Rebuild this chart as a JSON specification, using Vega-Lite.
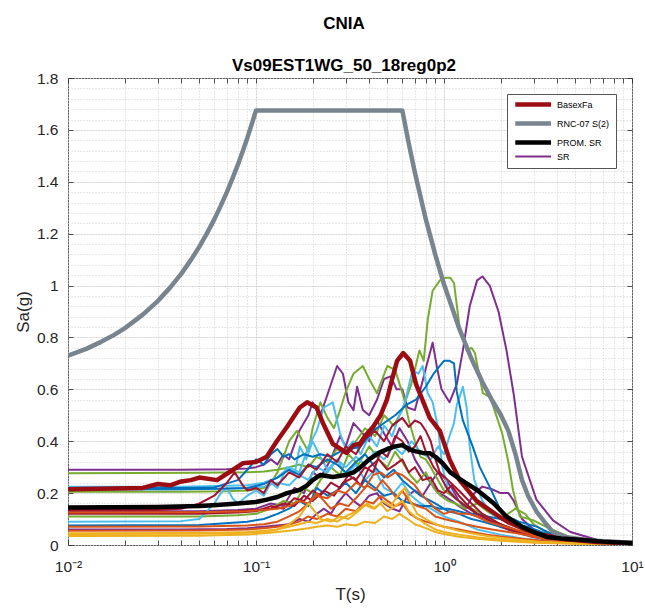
{
"$schema":"https://vega.github.io/schema/vega-lite/v6.json",
"width":564,"height":467,
"autosize":{"type":"none"},
"padding":{"left":68,"top":78,"right":13,"bottom":63},
"background":"white",
"title":{"text":"CNIA","subtitle":"Vs09EST1WG_50_18reg0p2","fontSize":17,"fontWeight":"bold","subtitleFontSize":17,"subtitleFontWeight":"bold","font":"Liberation Sans","subtitleFont":"Liberation Sans","color":"#000000","subtitleColor":"#000000","anchor":"middle","offset":-4,"subtitlePadding":25.5,"dx":-6},
"config":{"view":{"stroke":"#262626","strokeWidth":1},"font":"Liberation Sans"},
"data":{"values":[
{"s":"BasexFa","T":0.01,"a":0.215},{"s":"BasexFa","T":0.025,"a":0.22},{"s":"BasexFa","T":0.03,"a":0.235},{"s":"BasexFa","T":0.035,"a":0.23},{"s":"BasexFa","T":0.04,"a":0.245},{"s":"BasexFa","T":0.045,"a":0.25},{"s":"BasexFa","T":0.05,"a":0.26},{"s":"BasexFa","T":0.062,"a":0.25},{"s":"BasexFa","T":0.0755,"a":0.29},{"s":"BasexFa","T":0.085,"a":0.315},{"s":"BasexFa","T":0.1,"a":0.32},{"s":"BasexFa","T":0.114,"a":0.34},{"s":"BasexFa","T":0.129,"a":0.40},{"s":"BasexFa","T":0.146,"a":0.455},{"s":"BasexFa","T":0.171,"a":0.53},{"s":"BasexFa","T":0.187,"a":0.55},{"s":"BasexFa","T":0.21,"a":0.53},{"s":"BasexFa","T":0.227,"a":0.47},{"s":"BasexFa","T":0.256,"a":0.39},{"s":"BasexFa","T":0.304,"a":0.355},{"s":"BasexFa","T":0.33,"a":0.385},{"s":"BasexFa","T":0.357,"a":0.39},{"s":"BasexFa","T":0.38,"a":0.42},{"s":"BasexFa","T":0.419,"a":0.455},{"s":"BasexFa","T":0.46,"a":0.50},{"s":"BasexFa","T":0.497,"a":0.56},{"s":"BasexFa","T":0.53,"a":0.64},{"s":"BasexFa","T":0.563,"a":0.71},{"s":"BasexFa","T":0.607,"a":0.74},{"s":"BasexFa","T":0.66,"a":0.71},{"s":"BasexFa","T":0.71,"a":0.62},{"s":"BasexFa","T":0.84,"a":0.49},{"s":"BasexFa","T":0.95,"a":0.44},{"s":"BasexFa","T":1.07,"a":0.33},{"s":"BasexFa","T":1.21,"a":0.25},{"s":"BasexFa","T":1.49,"a":0.17},{"s":"BasexFa","T":1.98,"a":0.108},{"s":"BasexFa","T":2.24,"a":0.085},{"s":"BasexFa","T":2.7,"a":0.06},{"s":"BasexFa","T":3.3,"a":0.04},{"s":"BasexFa","T":4.5,"a":0.022},{"s":"BasexFa","T":6.5,"a":0.012},{"s":"BasexFa","T":10,"a":0.006},
{"s":"RNC-07 S(2)","T":0.01,"a":0.73},{"s":"RNC-07 S(2)","T":0.0125,"a":0.756},{"s":"RNC-07 S(2)","T":0.015,"a":0.783},{"s":"RNC-07 S(2)","T":0.0175,"a":0.809},{"s":"RNC-07 S(2)","T":0.02,"a":0.835},{"s":"RNC-07 S(2)","T":0.025,"a":0.888},{"s":"RNC-07 S(2)","T":0.03,"a":0.94},{"s":"RNC-07 S(2)","T":0.035,"a":0.993},{"s":"RNC-07 S(2)","T":0.04,"a":1.045},{"s":"RNC-07 S(2)","T":0.045,"a":1.098},{"s":"RNC-07 S(2)","T":0.05,"a":1.15},{"s":"RNC-07 S(2)","T":0.055,"a":1.203},{"s":"RNC-07 S(2)","T":0.06,"a":1.255},{"s":"RNC-07 S(2)","T":0.065,"a":1.308},{"s":"RNC-07 S(2)","T":0.07,"a":1.36},{"s":"RNC-07 S(2)","T":0.075,"a":1.413},{"s":"RNC-07 S(2)","T":0.08,"a":1.465},{"s":"RNC-07 S(2)","T":0.085,"a":1.518},{"s":"RNC-07 S(2)","T":0.09,"a":1.57},{"s":"RNC-07 S(2)","T":0.095,"a":1.623},{"s":"RNC-07 S(2)","T":0.1,"a":1.675},{"s":"RNC-07 S(2)","T":0.6,"a":1.675},{"s":"RNC-07 S(2)","T":0.65,"a":1.546},{"s":"RNC-07 S(2)","T":0.7,"a":1.436},{"s":"RNC-07 S(2)","T":0.8,"a":1.256},{"s":"RNC-07 S(2)","T":0.9,"a":1.117},{"s":"RNC-07 S(2)","T":1.0,"a":1.005},{"s":"RNC-07 S(2)","T":1.2,"a":0.838},{"s":"RNC-07 S(2)","T":1.4,"a":0.718},{"s":"RNC-07 S(2)","T":1.6,"a":0.628},{"s":"RNC-07 S(2)","T":1.8,"a":0.558},{"s":"RNC-07 S(2)","T":2.0,"a":0.503},{"s":"RNC-07 S(2)","T":2.2,"a":0.44},{"s":"RNC-07 S(2)","T":2.4,"a":0.35},{"s":"RNC-07 S(2)","T":2.6,"a":0.25},{"s":"RNC-07 S(2)","T":2.8,"a":0.19},{"s":"RNC-07 S(2)","T":3.1,"a":0.13},{"s":"RNC-07 S(2)","T":3.5,"a":0.08},{"s":"RNC-07 S(2)","T":3.8,"a":0.05},{"s":"RNC-07 S(2)","T":4.5,"a":0.03},{"s":"RNC-07 S(2)","T":6,"a":0.017},{"s":"RNC-07 S(2)","T":10,"a":0.009},
{"s":"PROM. SR","T":0.01,"a":0.145},{"s":"PROM. SR","T":0.03,"a":0.146},{"s":"PROM. SR","T":0.05,"a":0.15},{"s":"PROM. SR","T":0.062,"a":0.154},{"s":"PROM. SR","T":0.08,"a":0.16},{"s":"PROM. SR","T":0.1,"a":0.166},{"s":"PROM. SR","T":0.114,"a":0.175},{"s":"PROM. SR","T":0.13,"a":0.185},{"s":"PROM. SR","T":0.146,"a":0.2},{"s":"PROM. SR","T":0.17,"a":0.212},{"s":"PROM. SR","T":0.187,"a":0.23},{"s":"PROM. SR","T":0.2,"a":0.25},{"s":"PROM. SR","T":0.22,"a":0.27},{"s":"PROM. SR","T":0.256,"a":0.262},{"s":"PROM. SR","T":0.3,"a":0.27},{"s":"PROM. SR","T":0.33,"a":0.28},{"s":"PROM. SR","T":0.36,"a":0.3},{"s":"PROM. SR","T":0.4,"a":0.33},{"s":"PROM. SR","T":0.45,"a":0.355},{"s":"PROM. SR","T":0.5,"a":0.37},{"s":"PROM. SR","T":0.55,"a":0.38},{"s":"PROM. SR","T":0.6,"a":0.385},{"s":"PROM. SR","T":0.65,"a":0.37},{"s":"PROM. SR","T":0.7,"a":0.362},{"s":"PROM. SR","T":0.77,"a":0.355},{"s":"PROM. SR","T":0.84,"a":0.354},{"s":"PROM. SR","T":0.9,"a":0.34},{"s":"PROM. SR","T":0.98,"a":0.316},{"s":"PROM. SR","T":1.08,"a":0.28},{"s":"PROM. SR","T":1.17,"a":0.262},{"s":"PROM. SR","T":1.3,"a":0.24},{"s":"PROM. SR","T":1.5,"a":0.212},{"s":"PROM. SR","T":1.83,"a":0.162},{"s":"PROM. SR","T":2.16,"a":0.108},{"s":"PROM. SR","T":2.62,"a":0.069},{"s":"PROM. SR","T":3.0,"a":0.05},{"s":"PROM. SR","T":3.52,"a":0.031},{"s":"PROM. SR","T":4.2,"a":0.025},{"s":"PROM. SR","T":5.3,"a":0.02},{"s":"PROM. SR","T":7,"a":0.013},{"s":"PROM. SR","T":10,"a":0.008},
{"s":"SR","T":0.01,"a":0.29},{"s":"SR","T":0.04,"a":0.29},{"s":"SR","T":0.07,"a":0.292},{"s":"SR","T":0.09,"a":0.295},{"s":"SR","T":0.1,"a":0.30},{"s":"SR","T":0.11,"a":0.31},{"s":"SR","T":0.12,"a":0.33},{"s":"SR","T":0.13,"a":0.31},{"s":"SR","T":0.14,"a":0.35},{"s":"SR","T":0.15,"a":0.33},{"s":"SR","T":0.17,"a":0.44},{"s":"SR","T":0.19,"a":0.50},{"s":"SR","T":0.2,"a":0.55},{"s":"SR","T":0.22,"a":0.50},{"s":"SR","T":0.24,"a":0.58},{"s":"SR","T":0.27,"a":0.69},{"s":"SR","T":0.29,"a":0.66},{"s":"SR","T":0.31,"a":0.55},{"s":"SR","T":0.33,"a":0.52},{"s":"SR","T":0.345,"a":0.61},{"s":"SR","T":0.37,"a":0.52},{"s":"SR","T":0.4,"a":0.50},{"s":"SR","T":0.44,"a":0.56},{"s":"SR","T":0.48,"a":0.64},{"s":"SR","T":0.52,"a":0.65},{"s":"SR","T":0.56,"a":0.60},{"s":"SR","T":0.6,"a":0.60},{"s":"SR","T":0.64,"a":0.53},{"s":"SR","T":0.7,"a":0.52},{"s":"SR","T":0.75,"a":0.60},{"s":"SR","T":0.8,"a":0.68},{"s":"SR","T":0.87,"a":0.78},{"s":"SR","T":0.92,"a":0.68},{"s":"SR","T":0.97,"a":0.60},{"s":"SR","T":1.07,"a":0.55},{"s":"SR","T":1.17,"a":0.62},{"s":"SR","T":1.26,"a":0.75},{"s":"SR","T":1.37,"a":0.92},{"s":"SR","T":1.5,"a":1.02},{"s":"SR","T":1.6,"a":1.035},{"s":"SR","T":1.75,"a":1.0},{"s":"SR","T":1.95,"a":0.90},{"s":"SR","T":2.15,"a":0.75},{"s":"SR","T":2.35,"a":0.58},{"s":"SR","T":2.6,"a":0.34},{"s":"SR","T":3.1,"a":0.175},{"s":"SR","T":3.8,"a":0.095},{"s":"SR","T":4.7,"a":0.05},{"s":"SR","T":6.5,"a":0.02},{"s":"SR","T":10,"a":0.01},
{"s":"SR02","T":0.01,"a":0.06},{"s":"SR02","T":0.04,"a":0.06},{"s":"SR02","T":0.07,"a":0.062},{"s":"SR02","T":0.09,"a":0.065},{"s":"SR02","T":0.11,"a":0.07},{"s":"SR02","T":0.13,"a":0.075},{"s":"SR02","T":0.15,"a":0.08},{"s":"SR02","T":0.17,"a":0.10},{"s":"SR02","T":0.19,"a":0.09},{"s":"SR02","T":0.21,"a":0.12},{"s":"SR02","T":0.23,"a":0.14},{"s":"SR02","T":0.25,"a":0.12},{"s":"SR02","T":0.27,"a":0.16},{"s":"SR02","T":0.3,"a":0.20},{"s":"SR02","T":0.33,"a":0.17},{"s":"SR02","T":0.36,"a":0.15},{"s":"SR02","T":0.4,"a":0.19},{"s":"SR02","T":0.44,"a":0.20},{"s":"SR02","T":0.48,"a":0.16},{"s":"SR02","T":0.53,"a":0.14},{"s":"SR02","T":0.58,"a":0.13},{"s":"SR02","T":0.64,"a":0.19},{"s":"SR02","T":0.7,"a":0.21},{"s":"SR02","T":0.77,"a":0.19},{"s":"SR02","T":0.85,"a":0.24},{"s":"SR02","T":0.93,"a":0.28},{"s":"SR02","T":1.0,"a":0.26},{"s":"SR02","T":1.1,"a":0.22},{"s":"SR02","T":1.2,"a":0.17},{"s":"SR02","T":1.3,"a":0.14},{"s":"SR02","T":1.45,"a":0.20},{"s":"SR02","T":1.6,"a":0.225},{"s":"SR02","T":1.8,"a":0.215},{"s":"SR02","T":2.0,"a":0.20},{"s":"SR02","T":2.2,"a":0.20},{"s":"SR02","T":2.35,"a":0.17},{"s":"SR02","T":2.6,"a":0.10},{"s":"SR02","T":3.0,"a":0.06},{"s":"SR02","T":3.5,"a":0.04},{"s":"SR02","T":4.2,"a":0.028},{"s":"SR02","T":5,"a":0.02},{"s":"SR02","T":6.5,"a":0.012},{"s":"SR02","T":10,"a":0.007},
{"s":"SR03","T":0.01,"a":0.13},{"s":"SR03","T":0.05,"a":0.13},{"s":"SR03","T":0.08,"a":0.135},{"s":"SR03","T":0.1,"a":0.14},{"s":"SR03","T":0.12,"a":0.16},{"s":"SR03","T":0.14,"a":0.15},{"s":"SR03","T":0.16,"a":0.22},{"s":"SR03","T":0.18,"a":0.20},{"s":"SR03","T":0.2,"a":0.28},{"s":"SR03","T":0.22,"a":0.26},{"s":"SR03","T":0.25,"a":0.33},{"s":"SR03","T":0.28,"a":0.42},{"s":"SR03","T":0.3,"a":0.38},{"s":"SR03","T":0.33,"a":0.47},{"s":"SR03","T":0.36,"a":0.44},{"s":"SR03","T":0.4,"a":0.40},{"s":"SR03","T":0.44,"a":0.48},{"s":"SR03","T":0.48,"a":0.43},{"s":"SR03","T":0.53,"a":0.38},{"s":"SR03","T":0.58,"a":0.45},{"s":"SR03","T":0.64,"a":0.40},{"s":"SR03","T":0.7,"a":0.33},{"s":"SR03","T":0.77,"a":0.28},{"s":"SR03","T":0.85,"a":0.24},{"s":"SR03","T":0.93,"a":0.20},{"s":"SR03","T":1.0,"a":0.19},{"s":"SR03","T":1.1,"a":0.17},{"s":"SR03","T":1.2,"a":0.15},{"s":"SR03","T":1.4,"a":0.12},{"s":"SR03","T":1.6,"a":0.10},{"s":"SR03","T":2.0,"a":0.07},{"s":"SR03","T":2.5,"a":0.045},{"s":"SR03","T":3.0,"a":0.03},{"s":"SR03","T":4,"a":0.018},{"s":"SR03","T":6,"a":0.01},{"s":"SR03","T":10,"a":0.005},
{"s":"SR04","T":0.01,"a":0.277},{"s":"SR04","T":0.05,"a":0.278},{"s":"SR04","T":0.09,"a":0.28},{"s":"SR04","T":0.11,"a":0.283},{"s":"SR04","T":0.13,"a":0.29},{"s":"SR04","T":0.15,"a":0.30},{"s":"SR04","T":0.17,"a":0.31},{"s":"SR04","T":0.19,"a":0.30},{"s":"SR04","T":0.21,"a":0.34},{"s":"SR04","T":0.24,"a":0.32},{"s":"SR04","T":0.27,"a":0.37},{"s":"SR04","T":0.3,"a":0.35},{"s":"SR04","T":0.34,"a":0.40},{"s":"SR04","T":0.38,"a":0.45},{"s":"SR04","T":0.43,"a":0.42},{"s":"SR04","T":0.48,"a":0.50},{"s":"SR04","T":0.54,"a":0.46},{"s":"SR04","T":0.6,"a":0.52},{"s":"SR04","T":0.67,"a":0.62},{"s":"SR04","T":0.74,"a":0.75},{"s":"SR04","T":0.78,"a":0.71},{"s":"SR04","T":0.82,"a":0.87},{"s":"SR04","T":0.87,"a":0.98},{"s":"SR04","T":0.95,"a":1.02},{"s":"SR04","T":1.02,"a":1.03},{"s":"SR04","T":1.08,"a":1.03},{"s":"SR04","T":1.13,"a":1.01},{"s":"SR04","T":1.21,"a":0.84},{"s":"SR04","T":1.32,"a":0.75},{"s":"SR04","T":1.4,"a":0.76},{"s":"SR04","T":1.46,"a":0.74},{"s":"SR04","T":1.61,"a":0.585},{"s":"SR04","T":1.76,"a":0.57},{"s":"SR04","T":2.04,"a":0.43},{"s":"SR04","T":2.2,"a":0.32},{"s":"SR04","T":2.33,"a":0.21},{"s":"SR04","T":2.53,"a":0.11},{"s":"SR04","T":2.97,"a":0.096},{"s":"SR04","T":3.5,"a":0.07},{"s":"SR04","T":4.66,"a":0.03},{"s":"SR04","T":6.5,"a":0.015},{"s":"SR04","T":10,"a":0.008},
{"s":"SR05","T":0.01,"a":0.205},{"s":"SR05","T":0.04,"a":0.205},{"s":"SR05","T":0.07,"a":0.207},{"s":"SR05","T":0.09,"a":0.21},{"s":"SR05","T":0.1,"a":0.215},{"s":"SR05","T":0.11,"a":0.22},{"s":"SR05","T":0.12,"a":0.24},{"s":"SR05","T":0.13,"a":0.28},{"s":"SR05","T":0.14,"a":0.34},{"s":"SR05","T":0.15,"a":0.40},{"s":"SR05","T":0.165,"a":0.44},{"s":"SR05","T":0.18,"a":0.39},{"s":"SR05","T":0.19,"a":0.36},{"s":"SR05","T":0.2,"a":0.45},{"s":"SR05","T":0.22,"a":0.55},{"s":"SR05","T":0.24,"a":0.49},{"s":"SR05","T":0.26,"a":0.45},{"s":"SR05","T":0.28,"a":0.52},{"s":"SR05","T":0.3,"a":0.59},{"s":"SR05","T":0.33,"a":0.66},{"s":"SR05","T":0.37,"a":0.69},{"s":"SR05","T":0.4,"a":0.64},{"s":"SR05","T":0.44,"a":0.585},{"s":"SR05","T":0.47,"a":0.64},{"s":"SR05","T":0.5,"a":0.69},{"s":"SR05","T":0.55,"a":0.675},{"s":"SR05","T":0.61,"a":0.57},{"s":"SR05","T":0.65,"a":0.48},{"s":"SR05","T":0.7,"a":0.40},{"s":"SR05","T":0.75,"a":0.34},{"s":"SR05","T":0.8,"a":0.33},{"s":"SR05","T":0.85,"a":0.30},{"s":"SR05","T":0.93,"a":0.25},{"s":"SR05","T":1.0,"a":0.21},{"s":"SR05","T":1.1,"a":0.19},{"s":"SR05","T":1.2,"a":0.17},{"s":"SR05","T":1.4,"a":0.14},{"s":"SR05","T":1.6,"a":0.12},{"s":"SR05","T":2.0,"a":0.08},{"s":"SR05","T":2.5,"a":0.05},{"s":"SR05","T":3.0,"a":0.035},{"s":"SR05","T":4,"a":0.02},{"s":"SR05","T":6,"a":0.01},{"s":"SR05","T":10,"a":0.005},
{"s":"SR06","T":0.01,"a":0.11},{"s":"SR06","T":0.05,"a":0.11},{"s":"SR06","T":0.08,"a":0.115},{"s":"SR06","T":0.1,"a":0.12},{"s":"SR06","T":0.12,"a":0.14},{"s":"SR06","T":0.14,"a":0.17},{"s":"SR06","T":0.16,"a":0.16},{"s":"SR06","T":0.18,"a":0.22},{"s":"SR06","T":0.2,"a":0.20},{"s":"SR06","T":0.22,"a":0.25},{"s":"SR06","T":0.25,"a":0.30},{"s":"SR06","T":0.28,"a":0.27},{"s":"SR06","T":0.31,"a":0.35},{"s":"SR06","T":0.35,"a":0.31},{"s":"SR06","T":0.4,"a":0.38},{"s":"SR06","T":0.45,"a":0.33},{"s":"SR06","T":0.5,"a":0.30},{"s":"SR06","T":0.55,"a":0.36},{"s":"SR06","T":0.6,"a":0.32},{"s":"SR06","T":0.66,"a":0.27},{"s":"SR06","T":0.72,"a":0.24},{"s":"SR06","T":0.8,"a":0.28},{"s":"SR06","T":0.88,"a":0.22},{"s":"SR06","T":0.96,"a":0.19},{"s":"SR06","T":1.05,"a":0.17},{"s":"SR06","T":1.15,"a":0.16},{"s":"SR06","T":1.3,"a":0.14},{"s":"SR06","T":1.5,"a":0.16},{"s":"SR06","T":1.7,"a":0.13},{"s":"SR06","T":2.0,"a":0.10},{"s":"SR06","T":2.4,"a":0.14},{"s":"SR06","T":2.7,"a":0.12},{"s":"SR06","T":3.0,"a":0.08},{"s":"SR06","T":3.5,"a":0.05},{"s":"SR06","T":4.2,"a":0.03},{"s":"SR06","T":5,"a":0.02},{"s":"SR06","T":6.5,"a":0.012},{"s":"SR06","T":10,"a":0.006},
{"s":"SR07","T":0.01,"a":0.225},{"s":"SR07","T":0.04,"a":0.225},{"s":"SR07","T":0.07,"a":0.228},{"s":"SR07","T":0.09,"a":0.23},{"s":"SR07","T":0.11,"a":0.24},{"s":"SR07","T":0.13,"a":0.26},{"s":"SR07","T":0.15,"a":0.30},{"s":"SR07","T":0.17,"a":0.28},{"s":"SR07","T":0.19,"a":0.38},{"s":"SR07","T":0.21,"a":0.44},{"s":"SR07","T":0.23,"a":0.53},{"s":"SR07","T":0.256,"a":0.55},{"s":"SR07","T":0.28,"a":0.43},{"s":"SR07","T":0.3,"a":0.37},{"s":"SR07","T":0.33,"a":0.40},{"s":"SR07","T":0.36,"a":0.35},{"s":"SR07","T":0.4,"a":0.42},{"s":"SR07","T":0.44,"a":0.38},{"s":"SR07","T":0.48,"a":0.46},{"s":"SR07","T":0.53,"a":0.42},{"s":"SR07","T":0.58,"a":0.50},{"s":"SR07","T":0.62,"a":0.55},{"s":"SR07","T":0.68,"a":0.675},{"s":"SR07","T":0.73,"a":0.66},{"s":"SR07","T":0.77,"a":0.69},{"s":"SR07","T":0.82,"a":0.585},{"s":"SR07","T":0.87,"a":0.55},{"s":"SR07","T":0.93,"a":0.45},{"s":"SR07","T":0.98,"a":0.30},{"s":"SR07","T":1.05,"a":0.22},{"s":"SR07","T":1.15,"a":0.18},{"s":"SR07","T":1.3,"a":0.15},{"s":"SR07","T":1.5,"a":0.12},{"s":"SR07","T":1.8,"a":0.09},{"s":"SR07","T":2.2,"a":0.06},{"s":"SR07","T":2.7,"a":0.04},{"s":"SR07","T":3.5,"a":0.025},{"s":"SR07","T":5,"a":0.013},{"s":"SR07","T":10,"a":0.006},
{"s":"SR08","T":0.01,"a":0.215},{"s":"SR08","T":0.04,"a":0.215},{"s":"SR08","T":0.07,"a":0.217},{"s":"SR08","T":0.09,"a":0.22},{"s":"SR08","T":0.11,"a":0.225},{"s":"SR08","T":0.13,"a":0.24},{"s":"SR08","T":0.15,"a":0.23},{"s":"SR08","T":0.17,"a":0.27},{"s":"SR08","T":0.19,"a":0.25},{"s":"SR08","T":0.21,"a":0.30},{"s":"SR08","T":0.24,"a":0.28},{"s":"SR08","T":0.27,"a":0.33},{"s":"SR08","T":0.3,"a":0.30},{"s":"SR08","T":0.34,"a":0.34},{"s":"SR08","T":0.38,"a":0.31},{"s":"SR08","T":0.43,"a":0.36},{"s":"SR08","T":0.48,"a":0.33},{"s":"SR08","T":0.54,"a":0.38},{"s":"SR08","T":0.6,"a":0.35},{"s":"SR08","T":0.67,"a":0.40},{"s":"SR08","T":0.75,"a":0.36},{"s":"SR08","T":0.85,"a":0.33},{"s":"SR08","T":0.93,"a":0.38},{"s":"SR08","T":1.0,"a":0.35},{"s":"SR08","T":1.07,"a":0.42},{"s":"SR08","T":1.13,"a":0.47},{"s":"SR08","T":1.17,"a":0.54},{"s":"SR08","T":1.21,"a":0.57},{"s":"SR08","T":1.26,"a":0.61},{"s":"SR08","T":1.32,"a":0.53},{"s":"SR08","T":1.37,"a":0.38},{"s":"SR08","T":1.45,"a":0.25},{"s":"SR08","T":1.6,"a":0.17},{"s":"SR08","T":1.8,"a":0.12},{"s":"SR08","T":2.0,"a":0.10},{"s":"SR08","T":2.3,"a":0.08},{"s":"SR08","T":2.7,"a":0.06},{"s":"SR08","T":3.2,"a":0.04},{"s":"SR08","T":4,"a":0.025},{"s":"SR08","T":5.5,"a":0.013},{"s":"SR08","T":10,"a":0.006},
{"s":"SR09","T":0.01,"a":0.09},{"s":"SR09","T":0.04,"a":0.092},{"s":"SR09","T":0.05,"a":0.10},{"s":"SR09","T":0.06,"a":0.16},{"s":"SR09","T":0.065,"a":0.20},{"s":"SR09","T":0.07,"a":0.22},{"s":"SR09","T":0.075,"a":0.18},{"s":"SR09","T":0.08,"a":0.16},{"s":"SR09","T":0.09,"a":0.19},{"s":"SR09","T":0.1,"a":0.21},{"s":"SR09","T":0.11,"a":0.19},{"s":"SR09","T":0.12,"a":0.24},{"s":"SR09","T":0.13,"a":0.22},{"s":"SR09","T":0.146,"a":0.30},{"s":"SR09","T":0.16,"a":0.27},{"s":"SR09","T":0.171,"a":0.38},{"s":"SR09","T":0.185,"a":0.33},{"s":"SR09","T":0.2,"a":0.40},{"s":"SR09","T":0.22,"a":0.34},{"s":"SR09","T":0.24,"a":0.29},{"s":"SR09","T":0.27,"a":0.33},{"s":"SR09","T":0.3,"a":0.27},{"s":"SR09","T":0.34,"a":0.31},{"s":"SR09","T":0.38,"a":0.25},{"s":"SR09","T":0.43,"a":0.29},{"s":"SR09","T":0.48,"a":0.22},{"s":"SR09","T":0.54,"a":0.20},{"s":"SR09","T":0.6,"a":0.24},{"s":"SR09","T":0.67,"a":0.19},{"s":"SR09","T":0.75,"a":0.16},{"s":"SR09","T":0.85,"a":0.14},{"s":"SR09","T":1.0,"a":0.11},{"s":"SR09","T":1.2,"a":0.09},{"s":"SR09","T":1.5,"a":0.06},{"s":"SR09","T":2.0,"a":0.04},{"s":"SR09","T":2.6,"a":0.025},{"s":"SR09","T":3.5,"a":0.015},{"s":"SR09","T":5,"a":0.008},{"s":"SR09","T":10,"a":0.004},
{"s":"SR10","T":0.01,"a":0.22},{"s":"SR10","T":0.04,"a":0.22},{"s":"SR10","T":0.06,"a":0.222},{"s":"SR10","T":0.08,"a":0.25},{"s":"SR10","T":0.09,"a":0.29},{"s":"SR10","T":0.1,"a":0.33},{"s":"SR10","T":0.11,"a":0.31},{"s":"SR10","T":0.12,"a":0.35},{"s":"SR10","T":0.13,"a":0.37},{"s":"SR10","T":0.14,"a":0.34},{"s":"SR10","T":0.15,"a":0.35},{"s":"SR10","T":0.16,"a":0.33},{"s":"SR10","T":0.18,"a":0.35},{"s":"SR10","T":0.2,"a":0.34},{"s":"SR10","T":0.22,"a":0.35},{"s":"SR10","T":0.25,"a":0.34},{"s":"SR10","T":0.28,"a":0.36},{"s":"SR10","T":0.32,"a":0.37},{"s":"SR10","T":0.36,"a":0.38},{"s":"SR10","T":0.42,"a":0.44},{"s":"SR10","T":0.48,"a":0.47},{"s":"SR10","T":0.55,"a":0.50},{"s":"SR10","T":0.63,"a":0.54},{"s":"SR10","T":0.71,"a":0.56},{"s":"SR10","T":0.8,"a":0.61},{"s":"SR10","T":0.88,"a":0.66},{"s":"SR10","T":0.95,"a":0.69},{"s":"SR10","T":1.0,"a":0.71},{"s":"SR10","T":1.07,"a":0.71},{"s":"SR10","T":1.13,"a":0.70},{"s":"SR10","T":1.17,"a":0.59},{"s":"SR10","T":1.26,"a":0.48},{"s":"SR10","T":1.42,"a":0.38},{"s":"SR10","T":1.55,"a":0.30},{"s":"SR10","T":1.76,"a":0.22},{"s":"SR10","T":2.04,"a":0.12},{"s":"SR10","T":2.5,"a":0.09},{"s":"SR10","T":3.13,"a":0.07},{"s":"SR10","T":3.8,"a":0.04},{"s":"SR10","T":5,"a":0.02},{"s":"SR10","T":10,"a":0.007},
{"s":"SR11","T":0.01,"a":0.075},{"s":"SR11","T":0.05,"a":0.077},{"s":"SR11","T":0.09,"a":0.09},{"s":"SR11","T":0.11,"a":0.10},{"s":"SR11","T":0.13,"a":0.12},{"s":"SR11","T":0.15,"a":0.14},{"s":"SR11","T":0.17,"a":0.17},{"s":"SR11","T":0.19,"a":0.15},{"s":"SR11","T":0.21,"a":0.22},{"s":"SR11","T":0.24,"a":0.19},{"s":"SR11","T":0.27,"a":0.21},{"s":"SR11","T":0.3,"a":0.24},{"s":"SR11","T":0.34,"a":0.20},{"s":"SR11","T":0.38,"a":0.25},{"s":"SR11","T":0.43,"a":0.22},{"s":"SR11","T":0.48,"a":0.19},{"s":"SR11","T":0.54,"a":0.20},{"s":"SR11","T":0.6,"a":0.17},{"s":"SR11","T":0.67,"a":0.16},{"s":"SR11","T":0.75,"a":0.15},{"s":"SR11","T":0.85,"a":0.15},{"s":"SR11","T":0.95,"a":0.14},{"s":"SR11","T":1.05,"a":0.14},{"s":"SR11","T":1.2,"a":0.13},{"s":"SR11","T":1.35,"a":0.12},{"s":"SR11","T":1.5,"a":0.12},{"s":"SR11","T":1.7,"a":0.11},{"s":"SR11","T":2.0,"a":0.10},{"s":"SR11","T":2.4,"a":0.08},{"s":"SR11","T":2.8,"a":0.07},{"s":"SR11","T":3.3,"a":0.05},{"s":"SR11","T":4,"a":0.03},{"s":"SR11","T":5,"a":0.02},{"s":"SR11","T":6.5,"a":0.012},{"s":"SR11","T":10,"a":0.006},
{"s":"SR12","T":0.01,"a":0.215},{"s":"SR12","T":0.04,"a":0.215},{"s":"SR12","T":0.07,"a":0.218},{"s":"SR12","T":0.09,"a":0.22},{"s":"SR12","T":0.11,"a":0.235},{"s":"SR12","T":0.13,"a":0.26},{"s":"SR12","T":0.15,"a":0.29},{"s":"SR12","T":0.17,"a":0.27},{"s":"SR12","T":0.19,"a":0.31},{"s":"SR12","T":0.21,"a":0.30},{"s":"SR12","T":0.24,"a":0.33},{"s":"SR12","T":0.27,"a":0.31},{"s":"SR12","T":0.3,"a":0.28},{"s":"SR12","T":0.34,"a":0.32},{"s":"SR12","T":0.38,"a":0.35},{"s":"SR12","T":0.43,"a":0.30},{"s":"SR12","T":0.48,"a":0.26},{"s":"SR12","T":0.54,"a":0.29},{"s":"SR12","T":0.6,"a":0.25},{"s":"SR12","T":0.67,"a":0.22},{"s":"SR12","T":0.75,"a":0.19},{"s":"SR12","T":0.85,"a":0.17},{"s":"SR12","T":0.95,"a":0.15},{"s":"SR12","T":1.05,"a":0.13},{"s":"SR12","T":1.2,"a":0.12},{"s":"SR12","T":1.4,"a":0.10},{"s":"SR12","T":1.6,"a":0.09},{"s":"SR12","T":2.0,"a":0.07},{"s":"SR12","T":2.5,"a":0.05},{"s":"SR12","T":3.0,"a":0.035},{"s":"SR12","T":4,"a":0.02},{"s":"SR12","T":6,"a":0.01},{"s":"SR12","T":10,"a":0.005},
{"s":"SR13","T":0.01,"a":0.135},{"s":"SR13","T":0.03,"a":0.135},{"s":"SR13","T":0.04,"a":0.14},{"s":"SR13","T":0.05,"a":0.16},{"s":"SR13","T":0.06,"a":0.19},{"s":"SR13","T":0.07,"a":0.24},{"s":"SR13","T":0.077,"a":0.28},{"s":"SR13","T":0.085,"a":0.23},{"s":"SR13","T":0.09,"a":0.21},{"s":"SR13","T":0.1,"a":0.22},{"s":"SR13","T":0.11,"a":0.20},{"s":"SR13","T":0.12,"a":0.25},{"s":"SR13","T":0.13,"a":0.23},{"s":"SR13","T":0.15,"a":0.28},{"s":"SR13","T":0.17,"a":0.26},{"s":"SR13","T":0.19,"a":0.31},{"s":"SR13","T":0.21,"a":0.29},{"s":"SR13","T":0.24,"a":0.35},{"s":"SR13","T":0.27,"a":0.32},{"s":"SR13","T":0.3,"a":0.38},{"s":"SR13","T":0.34,"a":0.35},{"s":"SR13","T":0.38,"a":0.41},{"s":"SR13","T":0.43,"a":0.44},{"s":"SR13","T":0.48,"a":0.40},{"s":"SR13","T":0.53,"a":0.46},{"s":"SR13","T":0.6,"a":0.49},{"s":"SR13","T":0.65,"a":0.455},{"s":"SR13","T":0.7,"a":0.48},{"s":"SR13","T":0.75,"a":0.47},{"s":"SR13","T":0.8,"a":0.44},{"s":"SR13","T":0.85,"a":0.40},{"s":"SR13","T":0.9,"a":0.33},{"s":"SR13","T":0.95,"a":0.28},{"s":"SR13","T":1.05,"a":0.25},{"s":"SR13","T":1.2,"a":0.21},{"s":"SR13","T":1.4,"a":0.16},{"s":"SR13","T":1.6,"a":0.12},{"s":"SR13","T":2.0,"a":0.08},{"s":"SR13","T":2.5,"a":0.05},{"s":"SR13","T":3.0,"a":0.035},{"s":"SR13","T":4,"a":0.02},{"s":"SR13","T":6,"a":0.01},{"s":"SR13","T":10,"a":0.005},
{"s":"SR14","T":0.01,"a":0.12},{"s":"SR14","T":0.05,"a":0.12},{"s":"SR14","T":0.08,"a":0.125},{"s":"SR14","T":0.1,"a":0.13},{"s":"SR14","T":0.12,"a":0.15},{"s":"SR14","T":0.14,"a":0.14},{"s":"SR14","T":0.16,"a":0.18},{"s":"SR14","T":0.18,"a":0.17},{"s":"SR14","T":0.2,"a":0.21},{"s":"SR14","T":0.22,"a":0.19},{"s":"SR14","T":0.25,"a":0.24},{"s":"SR14","T":0.28,"a":0.22},{"s":"SR14","T":0.31,"a":0.27},{"s":"SR14","T":0.34,"a":0.25},{"s":"SR14","T":0.38,"a":0.30},{"s":"SR14","T":0.42,"a":0.28},{"s":"SR14","T":0.46,"a":0.36},{"s":"SR14","T":0.5,"a":0.34},{"s":"SR14","T":0.55,"a":0.42},{"s":"SR14","T":0.6,"a":0.40},{"s":"SR14","T":0.65,"a":0.36},{"s":"SR14","T":0.7,"a":0.38},{"s":"SR14","T":0.75,"a":0.42},{"s":"SR14","T":0.8,"a":0.36},{"s":"SR14","T":0.88,"a":0.30},{"s":"SR14","T":0.95,"a":0.27},{"s":"SR14","T":1.05,"a":0.21},{"s":"SR14","T":1.15,"a":0.18},{"s":"SR14","T":1.3,"a":0.15},{"s":"SR14","T":1.5,"a":0.12},{"s":"SR14","T":1.8,"a":0.09},{"s":"SR14","T":2.2,"a":0.06},{"s":"SR14","T":2.7,"a":0.04},{"s":"SR14","T":3.3,"a":0.025},{"s":"SR14","T":4.5,"a":0.015},{"s":"SR14","T":6.5,"a":0.008},{"s":"SR14","T":10,"a":0.004},
{"s":"SR15","T":0.01,"a":0.125},{"s":"SR15","T":0.05,"a":0.125},{"s":"SR15","T":0.08,"a":0.13},{"s":"SR15","T":0.1,"a":0.135},{"s":"SR15","T":0.12,"a":0.14},{"s":"SR15","T":0.14,"a":0.16},{"s":"SR15","T":0.16,"a":0.15},{"s":"SR15","T":0.18,"a":0.19},{"s":"SR15","T":0.2,"a":0.17},{"s":"SR15","T":0.23,"a":0.21},{"s":"SR15","T":0.26,"a":0.19},{"s":"SR15","T":0.29,"a":0.24},{"s":"SR15","T":0.33,"a":0.26},{"s":"SR15","T":0.36,"a":0.23},{"s":"SR15","T":0.4,"a":0.30},{"s":"SR15","T":0.45,"a":0.33},{"s":"SR15","T":0.5,"a":0.29},{"s":"SR15","T":0.55,"a":0.31},{"s":"SR15","T":0.6,"a":0.33},{"s":"SR15","T":0.65,"a":0.28},{"s":"SR15","T":0.7,"a":0.30},{"s":"SR15","T":0.77,"a":0.25},{"s":"SR15","T":0.85,"a":0.26},{"s":"SR15","T":0.93,"a":0.21},{"s":"SR15","T":1.0,"a":0.20},{"s":"SR15","T":1.1,"a":0.23},{"s":"SR15","T":1.2,"a":0.19},{"s":"SR15","T":1.35,"a":0.15},{"s":"SR15","T":1.5,"a":0.12},{"s":"SR15","T":1.8,"a":0.09},{"s":"SR15","T":2.2,"a":0.07},{"s":"SR15","T":2.7,"a":0.045},{"s":"SR15","T":3.3,"a":0.03},{"s":"SR15","T":4.5,"a":0.017},{"s":"SR15","T":6.5,"a":0.009},{"s":"SR15","T":10,"a":0.004},
{"s":"SR16","T":0.01,"a":0.125},{"s":"SR16","T":0.05,"a":0.126},{"s":"SR16","T":0.09,"a":0.13},{"s":"SR16","T":0.11,"a":0.135},{"s":"SR16","T":0.13,"a":0.14},{"s":"SR16","T":0.15,"a":0.15},{"s":"SR16","T":0.17,"a":0.17},{"s":"SR16","T":0.19,"a":0.16},{"s":"SR16","T":0.21,"a":0.19},{"s":"SR16","T":0.24,"a":0.18},{"s":"SR16","T":0.27,"a":0.21},{"s":"SR16","T":0.3,"a":0.20},{"s":"SR16","T":0.34,"a":0.24},{"s":"SR16","T":0.38,"a":0.22},{"s":"SR16","T":0.42,"a":0.27},{"s":"SR16","T":0.46,"a":0.28},{"s":"SR16","T":0.5,"a":0.26},{"s":"SR16","T":0.55,"a":0.28},{"s":"SR16","T":0.6,"a":0.27},{"s":"SR16","T":0.65,"a":0.25},{"s":"SR16","T":0.7,"a":0.23},{"s":"SR16","T":0.75,"a":0.20},{"s":"SR16","T":0.82,"a":0.17},{"s":"SR16","T":0.9,"a":0.14},{"s":"SR16","T":1.0,"a":0.12},{"s":"SR16","T":1.1,"a":0.13},{"s":"SR16","T":1.2,"a":0.12},{"s":"SR16","T":1.35,"a":0.12},{"s":"SR16","T":1.5,"a":0.11},{"s":"SR16","T":1.7,"a":0.09},{"s":"SR16","T":2.0,"a":0.075},{"s":"SR16","T":2.4,"a":0.06},{"s":"SR16","T":2.8,"a":0.045},{"s":"SR16","T":3.3,"a":0.03},{"s":"SR16","T":4,"a":0.02},{"s":"SR16","T":5.5,"a":0.012},{"s":"SR16","T":10,"a":0.005},
{"s":"SR17","T":0.01,"a":0.07},{"s":"SR17","T":0.05,"a":0.071},{"s":"SR17","T":0.09,"a":0.075},{"s":"SR17","T":0.11,"a":0.08},{"s":"SR17","T":0.13,"a":0.09},{"s":"SR17","T":0.15,"a":0.11},{"s":"SR17","T":0.17,"a":0.13},{"s":"SR17","T":0.19,"a":0.16},{"s":"SR17","T":0.21,"a":0.20},{"s":"SR17","T":0.23,"a":0.17},{"s":"SR17","T":0.25,"a":0.14},{"s":"SR17","T":0.28,"a":0.16},{"s":"SR17","T":0.31,"a":0.15},{"s":"SR17","T":0.35,"a":0.19},{"s":"SR17","T":0.39,"a":0.23},{"s":"SR17","T":0.43,"a":0.21},{"s":"SR17","T":0.47,"a":0.25},{"s":"SR17","T":0.51,"a":0.22},{"s":"SR17","T":0.56,"a":0.18},{"s":"SR17","T":0.6,"a":0.21},{"s":"SR17","T":0.65,"a":0.17},{"s":"SR17","T":0.72,"a":0.15},{"s":"SR17","T":0.8,"a":0.14},{"s":"SR17","T":0.9,"a":0.11},{"s":"SR17","T":1.0,"a":0.10},{"s":"SR17","T":1.15,"a":0.09},{"s":"SR17","T":1.3,"a":0.08},{"s":"SR17","T":1.5,"a":0.07},{"s":"SR17","T":1.8,"a":0.06},{"s":"SR17","T":2.2,"a":0.05},{"s":"SR17","T":2.7,"a":0.04},{"s":"SR17","T":3.3,"a":0.025},{"s":"SR17","T":4.5,"a":0.015},{"s":"SR17","T":6.5,"a":0.008},{"s":"SR17","T":10,"a":0.004},
{"s":"SR18","T":0.01,"a":0.055},{"s":"SR18","T":0.05,"a":0.056},{"s":"SR18","T":0.09,"a":0.06},{"s":"SR18","T":0.11,"a":0.065},{"s":"SR18","T":0.13,"a":0.07},{"s":"SR18","T":0.15,"a":0.08},{"s":"SR18","T":0.17,"a":0.09},{"s":"SR18","T":0.19,"a":0.11},{"s":"SR18","T":0.21,"a":0.10},{"s":"SR18","T":0.24,"a":0.12},{"s":"SR18","T":0.27,"a":0.11},{"s":"SR18","T":0.3,"a":0.14},{"s":"SR18","T":0.34,"a":0.13},{"s":"SR18","T":0.38,"a":0.17},{"s":"SR18","T":0.42,"a":0.16},{"s":"SR18","T":0.46,"a":0.19},{"s":"SR18","T":0.5,"a":0.17},{"s":"SR18","T":0.55,"a":0.15},{"s":"SR18","T":0.6,"a":0.16},{"s":"SR18","T":0.66,"a":0.12},{"s":"SR18","T":0.73,"a":0.10},{"s":"SR18","T":0.8,"a":0.09},{"s":"SR18","T":0.9,"a":0.08},{"s":"SR18","T":1.0,"a":0.07},{"s":"SR18","T":1.2,"a":0.06},{"s":"SR18","T":1.4,"a":0.05},{"s":"SR18","T":1.7,"a":0.04},{"s":"SR18","T":2.0,"a":0.033},{"s":"SR18","T":2.5,"a":0.025},{"s":"SR18","T":3.2,"a":0.017},{"s":"SR18","T":4.5,"a":0.01},{"s":"SR18","T":6.5,"a":0.006},{"s":"SR18","T":10,"a":0.003},
{"s":"SR19","T":0.01,"a":0.045},{"s":"SR19","T":0.05,"a":0.046},{"s":"SR19","T":0.09,"a":0.05},{"s":"SR19","T":0.11,"a":0.055},{"s":"SR19","T":0.13,"a":0.06},{"s":"SR19","T":0.15,"a":0.08},{"s":"SR19","T":0.17,"a":0.11},{"s":"SR19","T":0.19,"a":0.16},{"s":"SR19","T":0.205,"a":0.13},{"s":"SR19","T":0.22,"a":0.10},{"s":"SR19","T":0.25,"a":0.09},{"s":"SR19","T":0.28,"a":0.11},{"s":"SR19","T":0.31,"a":0.10},{"s":"SR19","T":0.35,"a":0.13},{"s":"SR19","T":0.39,"a":0.16},{"s":"SR19","T":0.43,"a":0.14},{"s":"SR19","T":0.47,"a":0.17},{"s":"SR19","T":0.52,"a":0.15},{"s":"SR19","T":0.58,"a":0.20},{"s":"SR19","T":0.62,"a":0.22},{"s":"SR19","T":0.66,"a":0.17},{"s":"SR19","T":0.72,"a":0.12},{"s":"SR19","T":0.8,"a":0.10},{"s":"SR19","T":0.9,"a":0.08},{"s":"SR19","T":1.0,"a":0.07},{"s":"SR19","T":1.2,"a":0.055},{"s":"SR19","T":1.4,"a":0.045},{"s":"SR19","T":1.7,"a":0.035},{"s":"SR19","T":2.0,"a":0.028},{"s":"SR19","T":2.5,"a":0.02},{"s":"SR19","T":3.2,"a":0.013},{"s":"SR19","T":4.5,"a":0.008},{"s":"SR19","T":6.5,"a":0.005},{"s":"SR19","T":10,"a":0.003},
{"s":"SR20","T":0.01,"a":0.035},{"s":"SR20","T":0.05,"a":0.036},{"s":"SR20","T":0.09,"a":0.04},{"s":"SR20","T":0.11,"a":0.045},{"s":"SR20","T":0.13,"a":0.05},{"s":"SR20","T":0.15,"a":0.055},{"s":"SR20","T":0.17,"a":0.06},{"s":"SR20","T":0.19,"a":0.065},{"s":"SR20","T":0.21,"a":0.07},{"s":"SR20","T":0.24,"a":0.075},{"s":"SR20","T":0.27,"a":0.07},{"s":"SR20","T":0.3,"a":0.08},{"s":"SR20","T":0.34,"a":0.075},{"s":"SR20","T":0.38,"a":0.09},{"s":"SR20","T":0.43,"a":0.085},{"s":"SR20","T":0.48,"a":0.11},{"s":"SR20","T":0.53,"a":0.10},{"s":"SR20","T":0.58,"a":0.12},{"s":"SR20","T":0.64,"a":0.10},{"s":"SR20","T":0.7,"a":0.08},{"s":"SR20","T":0.8,"a":0.065},{"s":"SR20","T":0.9,"a":0.05},{"s":"SR20","T":1.0,"a":0.042},{"s":"SR20","T":1.2,"a":0.032},{"s":"SR20","T":1.5,"a":0.024},{"s":"SR20","T":2.0,"a":0.016},{"s":"SR20","T":3.0,"a":0.009},{"s":"SR20","T":5,"a":0.005},{"s":"SR20","T":10,"a":0.002},
{"s":"SR21","T":0.01,"a":0.042},{"s":"SR21","T":0.05,"a":0.043},{"s":"SR21","T":0.09,"a":0.047},{"s":"SR21","T":0.11,"a":0.05},{"s":"SR21","T":0.13,"a":0.06},{"s":"SR21","T":0.15,"a":0.07},{"s":"SR21","T":0.17,"a":0.08},{"s":"SR21","T":0.19,"a":0.09},{"s":"SR21","T":0.21,"a":0.085},{"s":"SR21","T":0.24,"a":0.10},{"s":"SR21","T":0.27,"a":0.09},{"s":"SR21","T":0.3,"a":0.11},{"s":"SR21","T":0.34,"a":0.13},{"s":"SR21","T":0.38,"a":0.155},{"s":"SR21","T":0.42,"a":0.14},{"s":"SR21","T":0.46,"a":0.16},{"s":"SR21","T":0.5,"a":0.13},{"s":"SR21","T":0.55,"a":0.15},{"s":"SR21","T":0.6,"a":0.17},{"s":"SR21","T":0.65,"a":0.13},{"s":"SR21","T":0.7,"a":0.11},{"s":"SR21","T":0.8,"a":0.08},{"s":"SR21","T":0.9,"a":0.06},{"s":"SR21","T":1.0,"a":0.05},{"s":"SR21","T":1.2,"a":0.04},{"s":"SR21","T":1.5,"a":0.03},{"s":"SR21","T":2.0,"a":0.02},{"s":"SR21","T":3.0,"a":0.012},{"s":"SR21","T":5,"a":0.006},{"s":"SR21","T":10,"a":0.003}
]},
"encoding":{
 "color":{"field":"s","type":"nominal",
  "scale":{"domain":["BasexFa","RNC-07 S(2)","PROM. SR","SR","SR02","SR03","SR04","SR05","SR06","SR07","SR08","SR09","SR10","SR11","SR12","SR13","SR14","SR15","SR16","SR17","SR18","SR19","SR20","SR21"],
   "range":["#9B0D12","#78858F","#000000","#7E2F8E","#7E2F8E","#7E2F8E","#77AC30","#77AC30","#77AC30","#4DBEEE","#4DBEEE","#4DBEEE","#0072BD","#0072BD","#0072BD","#A2142F","#A2142F","#A2142F","#D95319","#D95319","#D95319","#EDB120","#EDB120","#EDB120"]},
  "legend":{"title":null,"orient":"top-right","offset":16,"values":["BasexFa","RNC-07 S(2)","PROM. SR","SR"],"symbolType":"M-1,0H15","symbolSize":20,"labelOffset":35,"labelFontSize":9,"labelFont":"Liberation Sans","labelColor":"#000000","padding":6,"rowPadding":0,"fillColor":"#ffffff","strokeColor":"#555555"}},
 "strokeWidth":{"field":"s","type":"nominal",
  "scale":{"type":"ordinal","domain":["BasexFa","RNC-07 S(2)","PROM. SR","SR","SR02","SR03","SR04","SR05","SR06","SR07","SR08","SR09","SR10","SR11","SR12","SR13","SR14","SR15","SR16","SR17","SR18","SR19","SR20","SR21"],
   "range":[4.5,4.5,4.5,2,2,2,2,2,2,2,2,2,2,2,2,2,2,2,2,2,2,2,2,2]},
  "legend":{"title":null,"orient":"top-right","offset":16,"values":["BasexFa","RNC-07 S(2)","PROM. SR","SR"],"symbolType":"M-1,0H15","symbolSize":20,"labelOffset":35,"labelFontSize":9,"labelFont":"Liberation Sans","labelColor":"#000000","padding":6,"rowPadding":0,"fillColor":"#ffffff","strokeColor":"#555555"}}
},
"layer":[
 {"transform":[{"filter":"indexof(['BasexFa','RNC-07 S(2)','PROM. SR'], datum.s) < 0"}],
  "mark":{"type":"line","clip":true,"strokeJoin":"round"},
  "encoding":{
   "x":{"field":"T","type":"quantitative","scale":{"type":"log","domain":[0.01,10],"nice":false},
    "axis":{"title":"T(s)","values":[0.01,0.02,0.03,0.04,0.05,0.06,0.07,0.08,0.09,0.1,0.2,0.3,0.4,0.5,0.6,0.7,0.8,0.9,1,2,3,4,5,6,7,8,9,10],
     "labelExpr":"abs(log(datum.value)/LN10-round(log(datum.value)/LN10))<0.001 ? (datum.value<0.05 ? '10⁻²' : datum.value<0.5 ? '10⁻¹' : datum.value<5 ? '10⁰' : '10¹') : ''",
     "labelOverlap":false,"labelBound":false,"labelFlush":false,
     "grid":true,"gridColor":{"condition":{"test":"abs(log(datum.value)/LN10-round(log(datum.value)/LN10))<0.001","value":"#c8c8c8"},"value":"#c4c4c4"},
     "gridDash":{"condition":{"test":"abs(log(datum.value)/LN10-round(log(datum.value)/LN10))<0.001","value":[2,1]},"value":[1,2]},
     "gridWidth":0.8,"domain":false,"tickSize":-5,"tickColor":"#262626","tickWidth":0.8,
     "labelFontSize":15.5,"labelFont":"Liberation Sans","labelColor":"#262626","labelPadding":19,
     "titleFont":"Liberation Sans","titleFontSize":17,"titleFontWeight":"normal","titleColor":"#262626","titlePadding":12}},
   "y":{"field":"a","type":"quantitative","scale":{"domain":[0,1.8],"nice":false},
    "axis":{"title":"Sa(g)","values":[0,0.04,0.08,0.12,0.16,0.2,0.24,0.28,0.32,0.36,0.4,0.44,0.48,0.52,0.56,0.6,0.64,0.68,0.72,0.76,0.8,0.84,0.88,0.92,0.96,1,1.04,1.08,1.12,1.16,1.2,1.24,1.28,1.32,1.36,1.4,1.44,1.48,1.52,1.56,1.6,1.64,1.68,1.72,1.76,1.8],
     "format":"~g","labelExpr":"abs(datum.value*5-round(datum.value*5))<0.001 ? datum.label : ''",
     "labelOverlap":false,"labelBound":false,"labelFlush":false,
     "grid":true,"gridColor":{"condition":{"test":"abs(datum.value*5-round(datum.value*5))<0.001","value":"#c8c8c8"},"value":"#c4c4c4"},
     "gridDash":{"condition":{"test":"abs(datum.value*5-round(datum.value*5))<0.001","value":[2,1]},"value":[1,2]},
     "gridWidth":0.8,"domain":false,"tickSize":-5,"tickColor":"#262626","tickWidth":0.8,
     "tickOpacity":{"condition":{"test":"abs(datum.value*5-round(datum.value*5))<0.001","value":1},"value":0},
     "labelFontSize":15.5,"labelFont":"Liberation Sans","labelColor":"#262626","labelPadding":15,
     "titleFont":"Liberation Sans","titleFontSize":17,"titleFontWeight":"normal","titleColor":"#262626","titlePadding":4}}
  }},
 {"transform":[{"filter":"datum.s=='BasexFa'"}],
  "mark":{"type":"line","clip":true,"strokeJoin":"round"},
  "encoding":{
   "x":{"field":"T","type":"quantitative","scale":{"type":"log","domain":[0.01,10],"nice":false},"axis":null},
   "y":{"field":"a","type":"quantitative","scale":{"domain":[0,1.8],"nice":false},"axis":null}}},
 {"transform":[{"filter":"datum.s=='RNC-07 S(2)'"}],
  "mark":{"type":"line","clip":true,"strokeJoin":"round"},
  "encoding":{
   "x":{"field":"T","type":"quantitative","scale":{"type":"log","domain":[0.01,10],"nice":false},"axis":null},
   "y":{"field":"a","type":"quantitative","scale":{"domain":[0,1.8],"nice":false},"axis":null}}},
 {"transform":[{"filter":"datum.s=='PROM. SR'"}],
  "mark":{"type":"line","clip":true,"strokeJoin":"round"},
  "encoding":{
   "x":{"field":"T","type":"quantitative","scale":{"type":"log","domain":[0.01,10],"nice":false},
    "axis":{"orient":"top","title":null,"labels":false,"grid":false,"domain":false,"values":[0.01,0.02,0.03,0.04,0.05,0.06,0.07,0.08,0.09,0.1,0.2,0.3,0.4,0.5,0.6,0.7,0.8,0.9,1,2,3,4,5,6,7,8,9,10],"tickSize":-5,"tickColor":"#262626","tickWidth":0.8}},
   "y":{"field":"a","type":"quantitative","scale":{"domain":[0,1.8],"nice":false},
    "axis":{"orient":"right","title":null,"labels":false,"grid":false,"domain":false,"values":[0,0.2,0.4,0.6,0.8,1,1.2,1.4,1.6,1.8],"tickSize":-5,"tickColor":"#262626","tickWidth":0.8}}}}
],
"resolve":{"axis":{"x":"independent","y":"independent"}}
}
